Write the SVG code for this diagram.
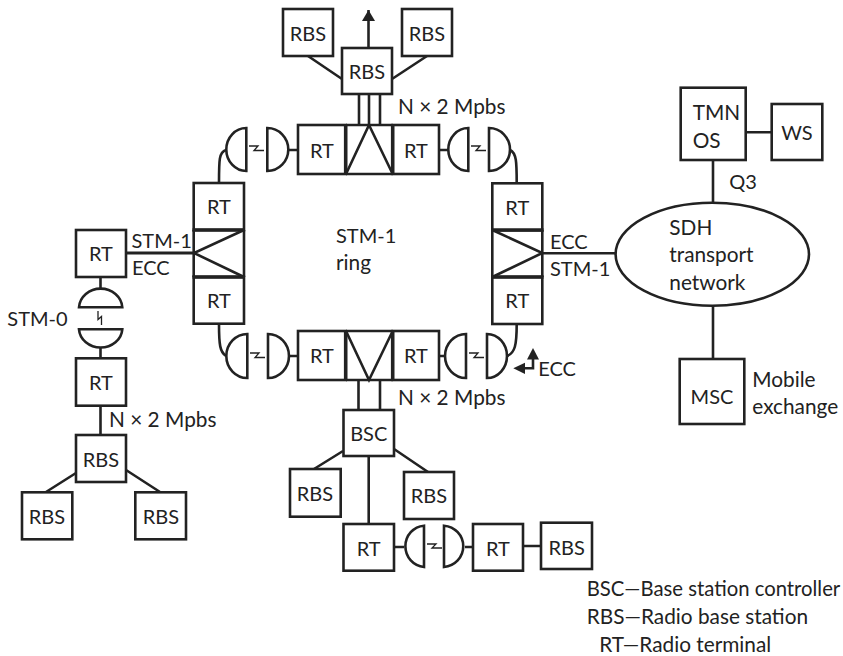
<svg xmlns="http://www.w3.org/2000/svg" width="843" height="656" viewBox="0 0 843 656">
<style>
rect,ellipse,.d{fill:#fff;stroke:#222;stroke-width:2.6}
.c{fill:none;stroke:#222;stroke-width:2.6}
.t{fill:none;stroke:#222;stroke-width:3.6}
.z{fill:none;stroke:#222;stroke-width:1.3}
text{font-family:Lato,"Open Sans",sans-serif;font-size:20.8px;fill:#222}
.m{text-anchor:middle;font-size:20px}
.s{font-size:20px}
.f{font-size:20.300px}
</style>
<defs>
<marker id="ah" markerUnits="userSpaceOnUse" markerWidth="12" markerHeight="13" refX="11" refY="6.500" orient="auto"><path d="M0 0L11 6.500L0 13z" fill="#222"/></marker>
</defs>
<rect width="843" height="656" style="fill:#fff;stroke:none"/>
<g id="connectors">
<path class="c" d="M308 56L342 79M427 56L392 79"/>
<path class="c" d="M368.500 48V10" marker-end="url(#ah)"/>
<path class="c" d="M359 94V125M369 94V125M380 94V125"/>
<path class="c" d="M288.700 150H298M439 150H448"/>
<path class="c" d="M226 150C219 152 219 160 219 183M510 150C516.500 153 516.700 162 516.700 183"/>
<path class="c" style="stroke-width:3" d="M126 253H194"/>
<path class="c" d="M100.500 277V288M100.500 348V358M100.500 405V435"/>
<path class="c" d="M76 473L46 492M126 470L160 492"/>
<path class="c" d="M219 324C219 345 220 352 226 356M516.700 324C516.700 345 515 353 507 356M288.700 356H298M439 356H445"/>
<path class="c" d="M358.500 380V410M380 380V410"/>
<path class="c" d="M343 451L314 469M394 449L428 472M368.700 456V524"/>
<path class="c" d="M394 547H404M465 547H473M523 546H541"/>
<path class="c" d="M542.300 253.300H616M713 160V203M746 132.300H772M713 305V359"/>
<path class="c" d="M533 358V368.300H525"/>
<path d="M533 348L539 359.500H527z" fill="#222"/>
<path d="M513.300 368.300L525 362.700V374z" fill="#222"/>
</g>
<g id="rbs-top-left"><rect x="283" y="9" width="50" height="47"/><text class="m" x="308" y="40.700">RBS</text></g>
<g id="rbs-top-right"><rect x="402" y="9" width="50" height="47"/><text class="m" x="427" y="40.700">RBS</text></g>
<g id="rbs-top-center"><rect x="342" y="48" width="50" height="46"/><text class="m" x="367" y="78.700">RBS</text></g>
<g id="top-terminal">
<rect x="298" y="125" width="47.700" height="49"/><text class="m" x="322" y="158">RT</text>
<rect x="392.700" y="125" width="46.300" height="49"/><text class="m" x="416" y="158">RT</text>
<path class="c" d="M346 125H392.700M346 174H392.700"/>
<path class="t" d="M345.700 124V175M392.700 124V175"/>
<path class="c" d="M346 174L369 125L392.700 174"/>
</g>
<g id="ant-top-left"><path class="d" d="M246.300 128A20 21.500 0 0 0 246.300 171z"/><path class="d" d="M267.300 128A21 21.500 0 0 1 267.300 171z"/><path class="z" d="M249 146H258L254 150.500H264"/></g>
<g id="ant-top-right"><path class="d" d="M468.300 128A20 21.500 0 0 0 468.300 171z"/><path class="d" d="M489 128A21 21.500 0 0 1 489 171z"/><path class="z" d="M471 146H480L476 150.500H486"/></g>
<g id="left-terminal">
<rect x="193.700" y="183" width="50.300" height="47"/><text class="m" x="219" y="214.300">RT</text>
<rect x="193.700" y="277" width="50.300" height="46.700"/><text class="m" x="219" y="308.300">RT</text>
<path class="c" d="M193.700 230V277M244 230V277"/>
<path class="t" d="M192.500 230H245M192.500 277H245"/>
<path class="c" d="M244 230L194 253L244 277"/>
</g>
<g id="right-terminal">
<rect x="492.300" y="183.300" width="50" height="47"/><text class="m" x="517.300" y="215">RT</text>
<rect x="492.300" y="277" width="50" height="47"/><text class="m" x="517.300" y="308">RT</text>
<path class="c" d="M492.300 230V277M542.300 230V277"/>
<path class="t" d="M491 230H543.500M491 277H543.500"/>
<path class="c" d="M492.300 230L542.300 253L492.300 277"/>
</g>
<g id="bottom-terminal">
<rect x="298" y="331" width="47.700" height="49"/><text class="m" x="322" y="363.300">RT</text>
<rect x="392.700" y="331" width="46.300" height="49"/><text class="m" x="416" y="363.300">RT</text>
<path class="c" d="M346 331H392.700M346 380H392.700"/>
<path class="t" d="M345.700 330V381M392.700 330V381"/>
<path class="c" d="M346 331L369 380L392.700 331"/>
</g>
<g id="ant-bottom-left"><path class="d" d="M247.300 334A21 22 0 0 0 247.300 378z"/><path class="d" d="M268 334A21 22 0 0 1 268 378z"/><path class="z" d="M250 353H259L255 357.500H265"/></g>
<g id="ant-bottom-right"><path class="d" d="M466 334A21 22 0 0 0 466 378z"/><path class="d" d="M487 334A20 22 0 0 1 487 378z"/><path class="z" d="M469 353H478L474 357.500H484"/></g>
<g id="rt-west"><rect x="76" y="230" width="50" height="47"/><text class="m" x="101" y="261.300">RT</text></g>
<g id="ant-west"><path class="d" d="M79 307.300A21.700 20 0 0 1 122.300 307.300z"/><path class="d" d="M79 329.300A21.700 19.500 0 0 0 122.300 329.300z"/><path class="z" d="M98 311V319.500L101.500 316.500V325"/></g>
<g id="rt-west-lower"><rect x="76" y="358.300" width="50" height="47.400"/><text class="m" x="101" y="390">RT</text></g>
<g id="rbs-west"><rect x="76" y="435" width="50" height="47"/><text class="m" x="101" y="466.700">RBS</text></g>
<g id="rbs-west-left"><rect x="22" y="492.300" width="50.300" height="47"/><text class="m" x="47" y="524">RBS</text></g>
<g id="rbs-west-right"><rect x="135.300" y="492.300" width="50.700" height="47"/><text class="m" x="161" y="524">RBS</text></g>
<g id="bsc"><rect x="343.500" y="410" width="50.500" height="46"/><text class="m" x="368.700" y="441">BSC</text></g>
<g id="rbs-south-left"><rect x="290" y="469" width="50.700" height="47.700"/><text class="m" x="315" y="500.700">RBS</text></g>
<g id="rbs-south-right"><rect x="404" y="472" width="50" height="47"/><text class="m" x="429" y="503.300">RBS</text></g>
<g id="rt-south"><rect x="343.500" y="524" width="50.500" height="46.700"/><text class="m" x="368.700" y="556">RT</text></g>
<g id="ant-south"><path class="d" d="M424 525.700A20 20.700 0 0 0 424 567z"/><path class="d" d="M444 525.700A20.700 20.700 0 0 1 444 567z"/><path class="z" d="M427 544H436L432 548H442"/></g>
<g id="rt-south-2"><rect x="473" y="524" width="50" height="46.700"/><text class="m" x="498" y="556">RT</text></g>
<g id="rbs-south-end"><rect x="541" y="522.700" width="51" height="46.300"/><text class="m" x="566.700" y="554.700">RBS</text></g>
<g id="sdh"><ellipse cx="712.300" cy="254.200" rx="96.700" ry="51.500"/><text x="669.300" y="235">SDH</text><text x="669.300" y="262.300">transport</text><text x="669.300" y="290">network</text></g>
<g id="tmn"><rect x="680.700" y="87.700" width="65" height="72.300"/><text x="692.700" y="120">TMN</text><text x="692.700" y="148.300">OS</text></g>
<g id="ws"><rect x="771.700" y="104" width="50.600" height="56"/><text class="m" x="797" y="140">WS</text></g>
<g id="msc"><rect x="679.700" y="359" width="64.600" height="65"/><text class="m" x="712" y="404">MSC</text></g>
<g id="labels">
<text x="398" y="114">N × 2 Mpbs</text>
<text x="398" y="405">N × 2 Mpbs</text>
<text x="109" y="426.700">N × 2 Mpbs</text>
<text class="s" x="131.500" y="248.300">STM-1</text>
<text class="s" x="132" y="275.300">ECC</text>
<text class="s" x="7.300" y="325.700">STM-0</text>
<text class="s" x="336" y="242.700">STM-1</text>
<text x="336" y="270">ring</text>
<text class="s" x="538.300" y="376">ECC</text>
<text class="s" x="550" y="249">ECC</text>
<text class="s" x="550" y="276">STM-1</text>
<text class="s" x="729.300" y="188.700">Q3</text>
<text x="752.300" y="386.700">Mobile</text>
<text x="752.300" y="414">exchange</text>
<text class="f" x="586.700" y="595.700">BSC—Base station controller</text>
<text x="586.700" y="624">RBS—Radio base station</text>
<text x="599.300" y="651.700">RT—Radio terminal</text>
</g>
</svg>
